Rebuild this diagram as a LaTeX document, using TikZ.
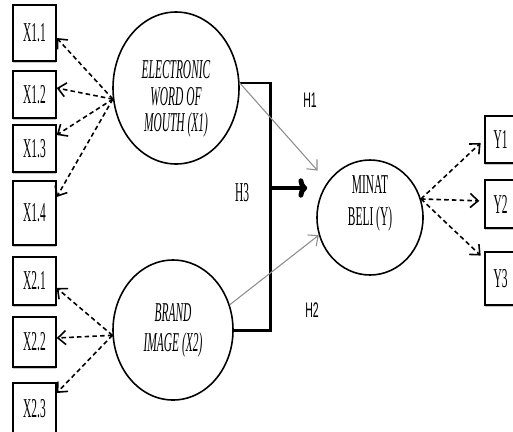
\documentclass[tikz,border=0pt]{standalone}
\usepackage{fontspec}
\setmainfont{Liberation Serif}[FakeStretch=0.42]
\newfontfamily\hypfont{Liberation Sans}[FakeStretch=0.5]
\usetikzlibrary{arrows.meta,shapes.geometric,shadows}
\definecolor{pathGray}{HTML}{8C8C8C}

\begin{document}
\begin{tikzpicture}[
    font=\fontsize{15.5}{15}\selectfont,
    indicator/.style={draw, line width=0.8pt, fill=white, inner sep=0pt,
      minimum width=0.86cm,
      drop shadow={shadow xshift=0.2pt, shadow yshift=-0.9pt, opacity=0.45}},
    latent/.style={draw, ellipse, line width=0.9pt, inner sep=0pt, align=center},
    loading/.style={line width=0.9pt, dash pattern=on 2.6pt off 1.8pt,
      -{Straight Barb[length=4.5pt, width=8pt]}},
    hyppath/.style={pathGray, line width=0.6pt,
      -{Straight Barb[length=4.5pt, width=8pt]}},
    bracket/.style={line width=1.7pt},
    hyplabel/.style={font=\hypfont\fontsize{12}{12}\selectfont}
  ]

    \useasboundingbox (0,0) rectangle (10.26,8.62);

    % indicators of X1
    \node[indicator, minimum height=1.12cm] (x11) at (0.69,7.96) {X1.1};
    \node[indicator, minimum height=0.94cm] (x12) at (0.69,6.73) {X1.2};
    \node[indicator, minimum height=0.94cm] (x13) at (0.69,5.65) {X1.3};
    \node[indicator, minimum height=1.28cm] (x14) at (0.69,4.36) {X1.4};

    % indicators of X2
    \node[indicator, minimum height=0.96cm] (x21) at (0.69,3.00) {X2.1};
    \node[indicator, minimum height=1.00cm] (x22) at (0.69,1.78) {X2.2};
    \node[indicator, minimum height=1.04cm] (x23) at (0.69,0.44) {X2.3};

    % indicators of Y
    \node[indicator, minimum width=0.62cm, minimum height=0.94cm] (y1) at (10.01,5.83) {Y1};
    \node[indicator, minimum width=0.62cm, minimum height=0.96cm] (y2) at (10.01,4.54) {Y2};
    \node[indicator, minimum width=0.62cm, minimum height=1.06cm] (y3) at (10.01,3.05) {Y3};

    % latent variables
    \node[latent, minimum width=2.52cm, minimum height=3.04cm,
      label={[align=center, yshift=-0.22cm]center:\itshape ELECTRONIC\\\itshape WORD OF\\\itshape MOUTH (X1)}]
      (ex1) at (3.52,6.86) {};
    \node[latent, minimum width=2.40cm, minimum height=2.80cm] (ex2) at (3.46,2.02)
      {\itshape BRAND\\[2pt]\itshape IMAGE (X2)};
    \node[latent, minimum width=2.12cm, minimum height=2.30cm,
      label={[align=center, yshift=0.28cm]center:MINAT\\[3pt]BELI (Y)}]
      (ey) at (7.40,4.27) {};

    % loadings
    \draw[loading] (ex1.190) -- ([yshift=-0.10cm]x11.east);
    \draw[loading] (ex1.190) -- ([yshift=0.13cm]x12.east);
    \draw[loading] (ex1.190) -- ([yshift=0.27cm]x13.east);
    \draw[loading] (ex1.190) -- ([yshift=0.32cm]x14.east);
    \draw[loading] (ex2.185) -- ([yshift=-0.14cm]x21.east);
    \draw[loading] (ex2.185) -- ([yshift=0.08cm]x22.east);
    \draw[loading] (ex2.185) -- ([yshift=0.32cm]x23.east);
    \draw[loading, shorten >=0.1cm] (ey.20) -- (y1.west);
    \draw[loading, shorten >=0.1cm] (ey.20) -- ([yshift=0.06cm]y2.west);
    \draw[loading, shorten >=0.1cm] (ey.20) -- ([yshift=0.39cm]y3.west);

    % joint effect H3
    \coordinate (bartop) at (5.40,6.96);
    \coordinate (barbot) at (5.40,2.02);
    \coordinate (h3) at (5.40,4.86);
    \draw[bracket] ([yshift=0.1cm]ex1.east) -- (bartop) -- (barbot) -- (ex2.east);
    \draw[line width=2.8pt, -{To[length=5pt, width=11pt]}, shorten >=0.18cm]
      (h3) -- (h3 -| ey.west);

    % partial effects H1, H2
    \draw[hyppath, shorten >=0.3cm] ([yshift=0.1cm]ex1.east) -- (ey.140);
    \draw[hyppath] (ex2.24) -- (ey.199);

    \node[hyplabel] (h1lab) at (6.20,6.62) {H1};
    \node (h3lab) at (4.84,4.76) {H3};
    \node[hyplabel] (h2lab) at (6.24,2.42) {H2};

\end{tikzpicture}
\end{document}
